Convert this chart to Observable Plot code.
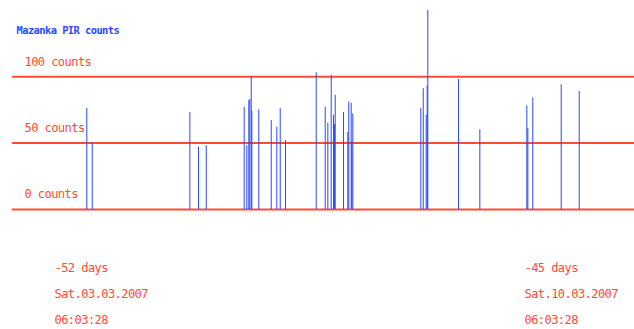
<!DOCTYPE html>
<html>
<head>
<meta charset="utf-8">
<script src="https://cdn.jsdelivr.net/npm/d3@7"></script>
<script src="https://cdn.jsdelivr.net/npm/@observablehq/plot@0.6"></script>
<style>
  html, body { margin: 0; padding: 0; background: #fff; }
  #chart svg { display: block; }
  #chart svg text { letter-spacing: -0.55px; }
</style>
</head>
<body>
<div id="chart"></div>
<script>
// Event time, in days relative to now
const eventDays = [
  -51.519, -51.438, -49.984, -49.855, -49.740,
  -49.175, -49.136, -49.106, -49.091, -49.070, -49.061, -48.957,
  -48.772, -48.689, -48.638, -48.559,
  -48.102, -47.968, -47.929, -47.879, -47.844, -47.829, -47.819,
  -47.695, -47.631, -47.617, -47.581, -47.572, -47.557,
  -46.544, -46.508, -46.464, -46.449, -46.440,
  -45.983, -45.665,
  -44.965, -44.950, -44.876, -44.453, -44.185
];
// PIR counts at each event
const eventCounts = [
  76, 50, 73, 47, 48,
  77, 48, 82, 83, 100, 74, 75,
  67, 62, 76, 52,
  103, 77, 65, 101, 71, 64, 86,
  73, 58, 81, 80, 51, 72,
  76, 91, 71, 93, 150,
  98, 60,
  78, 61, 84, 94, 89
];
const gridValues = [0, 50, 100];
const gridLabels = ["0 counts", "50 counts", "100 counts"];
const tickDays = [-52, -45];
const tickDayLabels = ["-52 days", "-45 days"];
const tickDateLabels = ["Sat.03.03.2007", "Sat.10.03.2007"];
const tickTimeLabels = ["06:03:28", "06:03:28"];
const title = "Mazanka PIR counts";

const events = eventDays.map((d, i) => ({day: d, count: eventCounts[i]}));
const grid = gridValues.map((v, i) => ({value: v, label: gridLabels[i]}));
const ticks = tickDays.map((d, i) => ({
  day: d,
  label: tickDayLabels[i] + "\n" + tickDateLabels[i] + "\n" + tickTimeLabels[i]
}));

const RED = "#ff4a35";
const BLUE = "#2a48ff";
const FONT = "DejaVu Sans Mono, monospace";

const chart = Plot.plot({
  width: 634,
  height: 329,
  marginLeft: 12,
  marginRight: 0,
  marginTop: 0,
  marginBottom: 120,
  x: {type: "linear", domain: [-52.6256, -43.3614], axis: null},
  y: {domain: [0, 157.4], axis: null},
  style: {fontFamily: FONT, background: "#fff"},
  marks: [
    Plot.ruleY(grid, {y: "value", stroke: RED, strokeWidth: 2}),
    Plot.ruleX(events, {x: "day", y1: 0, y2: "count", stroke: BLUE, strokeWidth: 1}),
    Plot.text(grid, {
      y: "value", text: "label", frameAnchor: "left", textAnchor: "start",
      dx: 12, dy: -15, fill: RED, fontSize: 12, fontFamily: FONT
    }),
    Plot.text([title], {
      text: d => d, frameAnchor: "top-left", textAnchor: "start",
      dx: 4, dy: 26, fill: BLUE, fontSize: 10.4, fontWeight: "bold", fontFamily: FONT
    }),
    Plot.text(ticks, {
      x: "day", text: "label", frameAnchor: "bottom", textAnchor: "start",
      lineAnchor: "top", lineHeight: 2.17, dy: 44, fill: RED, fontSize: 12, fontFamily: FONT
    })
  ]
});
document.getElementById("chart").appendChild(chart);
</script>
</body>
</html>
